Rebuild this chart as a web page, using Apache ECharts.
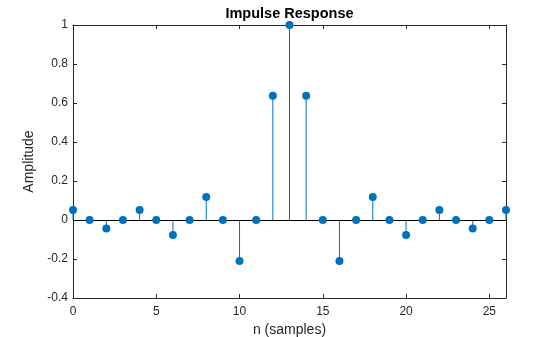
<!DOCTYPE html>
<html><head><meta charset="utf-8">
<script src="https://cdn.jsdelivr.net/npm/echarts@6/dist/echarts.min.js"></script>
<style>html,body{margin:0;padding:0;background:#fff}#c{width:560px;height:337px}</style>
</head><body><div id="c"></div>
<script>
const samples = [0,1,2,3,4,5,6,7,8,9,10,11,12,13,14,15,16,17,18,19,20,21,22,23,24,25,26];
const amplitude = [0.051,0,-0.043,0,0.051,0,-0.077,0,0.118,0,-0.21,0,0.637,1,0.637,0,-0.21,0,0.118,0,-0.077,0,0.051,0,-0.043,0,0.051];

const pts = samples.map((n,i)=>[n, amplitude[i]]);
const col = '#0072BD';
const font = 'Liberation Sans, Arial, Helvetica, sans-serif';
const chart = echarts.init(document.getElementById('c'), null, {renderer:'canvas'});
const axBase = () => ({
  axisLine:{show:true, onZero:false, lineStyle:{color:'#262626', width:1}},
  axisTick:{show:true, inside:true, length:4, lineStyle:{color:'#262626'}},
  splitLine:{show:false}
});
chart.setOption({
  animation:false,
  grid:{left:73, right:54, top:25, bottom:39, containLabel:false, outerBoundsMode:'none'},
  graphic:[{type:'text', x:289.5, y:14, z:10,
    style:{text:'Impulse Response', font:'bold 14.5px '+font, fill:'#000',
      align:'center', verticalAlign:'middle', textAlign:'center', textVerticalAlign:'middle'}}],
  xAxis:[
    Object.assign(axBase(), {type:'value', min:0, max:26, interval:5, position:'bottom',
      name:'n (samples)', nameLocation:'middle', nameGap:24,
      nameTextStyle:{fontSize:14, fontFamily:font, color:'#262626'},
      axisLabel:{showMaxLabel:false, fontSize:12, fontFamily:font, color:'#262626', margin:8}}),
    Object.assign(axBase(), {type:'value', min:0, max:26, interval:5, position:'top', axisLabel:{show:false}})
  ],
  yAxis:[
    Object.assign(axBase(), {type:'value', min:-0.4, max:1, interval:0.2, position:'left',
      name:'Amplitude', nameLocation:'middle', nameGap:32,
      nameTextStyle:{fontSize:14, fontFamily:font, color:'#262626'},
      axisLabel:{fontSize:12, fontFamily:font, color:'#262626', margin:5,
        formatter:v=>String(Math.round(v*10)/10)}}),
    Object.assign(axBase(), {type:'value', min:-0.4, max:1, interval:0.2, position:'right', axisLabel:{show:false}})
  ],
  series:[
    {type:'custom', xAxisIndex:0, yAxisIndex:0, data:pts, z:2,
      renderItem:(params, api)=>{
        const p0 = api.coord([api.value(0), 0]);
        const p1 = api.coord([api.value(0), api.value(1)]);
        return {type:'line', shape:{x1:p0[0], y1:p0[1], x2:p1[0], y2:p1[1]}, style:{stroke:col, lineWidth:1}};
      },
      markLine:{silent:true, symbol:'none', label:{show:false}, lineStyle:{color:'#000', type:'solid', width:1},
        data:[{yAxis:0}]}
    },
    {type:'scatter', xAxisIndex:0, yAxisIndex:0, data:pts, symbol:'circle', symbolSize:8,
      itemStyle:{color:col, opacity:1}, z:5}
  ]
});
</script></body></html>
